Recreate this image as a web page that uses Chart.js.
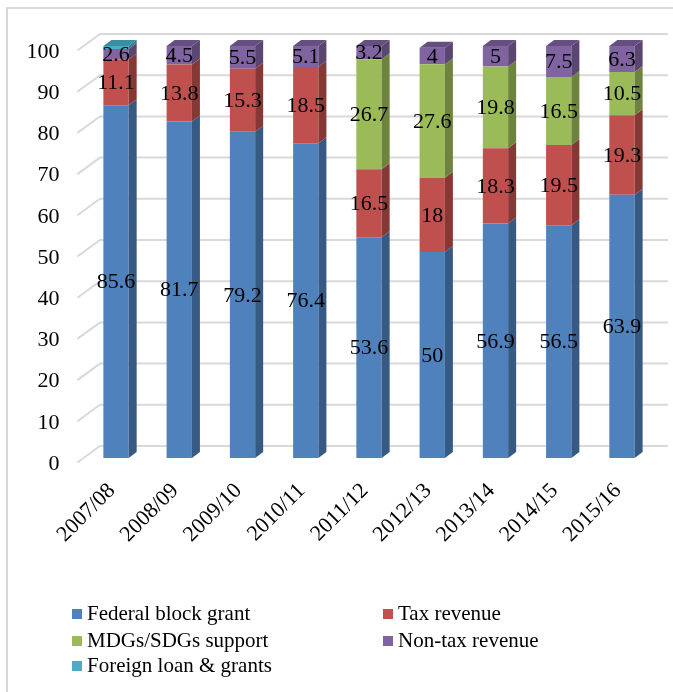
<!DOCTYPE html>
<html>
<head>
<meta charset="utf-8">
<script src="https://cdn.jsdelivr.net/npm/chart.js@4.4.0/dist/chart.umd.min.js"></script>
<style>
    body { margin: 0; background: #fff; }
    #wrap { position: relative; width: 673px; height: 692px; }
    #frame { position: absolute; left: 6px; top: 7px; right: 0; bottom: 0; border-left: 2px solid #d9d9d9; border-top: 2px solid #d9d9d9; }
    .leg { position: absolute; font-family: "Liberation Serif", serif; font-size: 21px; color: #000; line-height: 21px; white-space: nowrap; }
    .leg span { display: inline-block; width: 10px; height: 10px; margin-right: 5px; vertical-align: 1px; }
</style>
</head>
<body>
<div id="wrap">
    <div id="frame"></div>
    <canvas id="chart1"></canvas>
    <div id="legend"></div>
</div>
<script>
// values (percent of revenue)
var years = ['2007/08', '2008/09', '2009/10', '2010/11', '2011/12', '2012/13', '2013/14', '2014/15', '2015/16'];
var federalGrant = [85.6, 81.7, 79.2, 76.4, 53.6, 50, 56.9, 56.5, 63.9];
var taxRevenue = [11.1, 13.8, 15.3, 18.5, 16.5, 18, 18.3, 19.5, 19.3];
var mdgSupport = [0, 0, 0, 0, 26.7, 27.6, 19.8, 16.5, 10.5];
var nonTaxRevenue = [2.6, 4.5, 5.5, 5.1, 3.2, 4, 5, 7.5, 6.3];
var foreignLoan = [0.7, 0, 0, 0, 0, 0, 0, 0, 0];
var yTicks = [0, 10, 20, 30, 40, 50, 60, 70, 80, 90, 100];

var seriesNames = ['Federal block grant', 'Tax revenue', 'MDGs/SDGs support', 'Non-tax revenue', 'Foreign loan & grants'];
var frontColors = ['#4F81BD', '#C0504D', '#9BBB59', '#8064A2', '#4BACC6'];
var sideColors = ['#375A84', '#863835', '#6D833E', '#5A4671', '#35788B'];
var topColors = ['#3E659A', '#974040', '#7A9446', '#654F80', '#3A8DA3'];
var showLabels = [true, true, true, true, false];

var FONT = '"Liberation Serif", serif';

// depth of the bars
var barDx = 8, barDy = 6;

// back wall grid with the left wall diagonals
var wallGrid = {
    id: 'wallGrid',
    beforeDatasetsDraw: function (chart) {
        var ctx = chart.ctx;
        var area = chart.chartArea;
        var y = chart.scales.y;
        ctx.save();
        ctx.strokeStyle = '#d9d9d9';
        ctx.lineWidth = 2;
        yTicks.forEach(function (v) {
            var py = y.getPixelForValue(v);
            ctx.beginPath();
            ctx.moveTo(area.left - 7, py + 4.5);
            ctx.lineTo(area.left + 15.6, py - 12);
            ctx.lineTo(area.right + 14.4, py - 12);
            ctx.stroke();
        });
        ctx.restore();
    }
};

// right sides, top faces and value labels of the columns
var bars3d = {
    id: 'bars3d',
    afterDatasetsDraw: function (chart) {
        var ctx = chart.ctx;
        var sets = chart.data.datasets;
        ctx.save();
        for (var d = 0; d < sets.length; d++) {
            var meta = chart.getDatasetMeta(d);
            meta.data.forEach(function (bar, i) {
                if (!sets[d].data[i]) return;
                var r = bar.x + bar.width / 2;
                ctx.fillStyle = sideColors[d];
                ctx.beginPath();
                ctx.moveTo(r, bar.y);
                ctx.lineTo(r + barDx, bar.y - barDy);
                ctx.lineTo(r + barDx, bar.base - barDy);
                ctx.lineTo(r, bar.base);
                ctx.closePath();
                ctx.fill();
            });
        }
        // top face only on the highest segment
        for (var i = 0; i < years.length; i++) {
            var topSet = -1;
            for (var d2 = 0; d2 < sets.length; d2++) {
                if (sets[d2].data[i]) topSet = d2;
            }
            if (topSet < 0) continue;
            var b = chart.getDatasetMeta(topSet).data[i];
            var l = b.x - b.width / 2, rr = b.x + b.width / 2;
            ctx.fillStyle = topColors[topSet];
            ctx.beginPath();
            ctx.moveTo(l, b.y);
            ctx.lineTo(l + barDx, b.y - barDy);
            ctx.lineTo(rr + barDx, b.y - barDy);
            ctx.lineTo(rr, b.y);
            ctx.closePath();
            ctx.fill();
        }
        // labels
        ctx.font = '22px ' + FONT;
        ctx.fillStyle = '#000';
        ctx.textAlign = 'center';
        ctx.textBaseline = 'middle';
        for (var d3 = 0; d3 < sets.length; d3++) {
            if (!showLabels[d3]) continue;
            chart.getDatasetMeta(d3).data.forEach(function (bar, i) {
                var v = sets[d3].data[i];
                if (!v) return;
                ctx.fillText(String(v), bar.x, (bar.y + bar.base) / 2 + 1);
            });
        }
        ctx.restore();
    }
};

var seriesData = [federalGrant, taxRevenue, mdgSupport, nonTaxRevenue, foreignLoan];
var datasets = seriesData.map(function (arr, k) {
    return {
        label: seriesNames[k],
        data: arr,
        backgroundColor: frontColors[k],
        borderWidth: 0,
        categoryPercentage: 1,
        barPercentage: 0.4
    };
});

var ctx = document.getElementById('chart1').getContext('2d');
var myChart = new Chart(ctx, {
    type: 'bar',
    data: { labels: years, datasets: datasets },
    plugins: [wallGrid, bars3d],
    options: {
        responsive: true,
        maintainAspectRatio: false,
        animation: false,
        layout: { padding: { left: 0, right: 19.4, top: 46, bottom: 0 } },
        plugins: {
            legend: { display: false },
            tooltip: { enabled: false }
        },
        scales: {
            x: {
                stacked: true,
                grid: { display: false, drawTicks: false },
                border: { display: false },
                ticks: {
                    color: '#000',
                    font: { family: FONT, size: 22 },
                    maxRotation: 45,
                    minRotation: 45,
                    padding: 20,
                    labelOffset: -4
                },
                afterFit: function (scale) { scale.height = 234; }
            },
            y: {
                stacked: true,
                min: 0,
                max: 100,
                grid: { display: false, drawTicks: false },
                border: { display: false },
                ticks: {
                    stepSize: 10,
                    color: '#000',
                    font: { family: FONT, size: 22 },
                    padding: 25,
                    labelOffset: 6
                },
                afterFit: function (scale) { scale.width = 84.4; }
            }
        }
    }
});

// legend in two columns under the plot
var legendPos = [[72, 614], [383, 614], [72, 641], [383, 641], [72, 666]];
var legendBox = document.getElementById('legend');
seriesNames.forEach(function (name, k) {
    var div = document.createElement('div');
    div.className = 'leg';
    div.style.left = legendPos[k][0] + 'px';
    div.style.top = (legendPos[k][1] - 11) + 'px';
    div.innerHTML = '<span style="background:' + frontColors[k] + '"></span>';
    div.appendChild(document.createTextNode(name));
    legendBox.appendChild(div);
});
</script>
</body>
</html>
